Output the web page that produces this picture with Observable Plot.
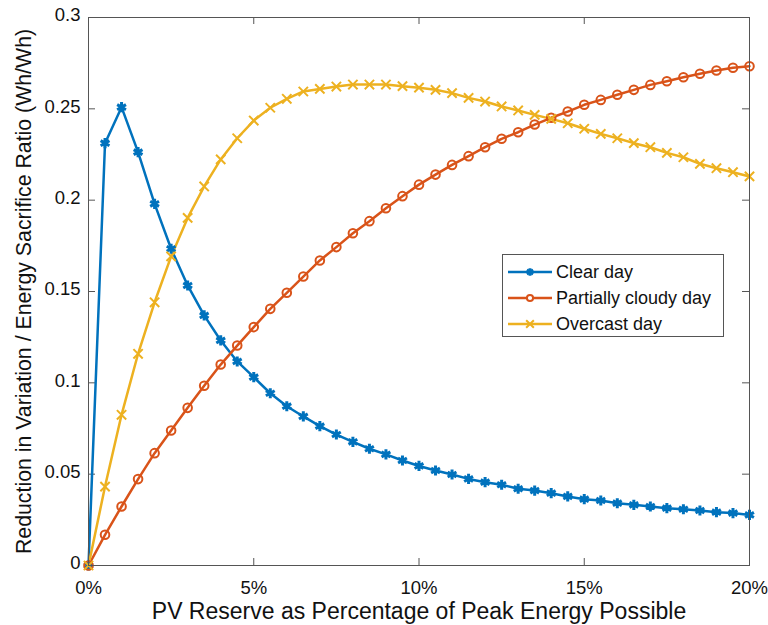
<!DOCTYPE html>
<html><head><meta charset="utf-8">
<script src="https://cdn.jsdelivr.net/npm/d3@7"></script>
<script src="https://cdn.jsdelivr.net/npm/@observablehq/plot@0.6"></script>
<style>
body{margin:0;background:#fff;}
#wrap{position:relative;width:768px;height:625px;font-family:"Liberation Sans",Arial,Helvetica,sans-serif;}
#legend{position:absolute;left:502px;top:254px;width:222px;height:83px;border:1px solid #555;background:#fff;box-sizing:border-box;}
.row{position:absolute;left:0;height:26px;display:flex;align-items:center;font-size:18px;color:#111;}
.row svg{margin-left:5px;margin-right:4px;}
</style></head><body><div id="wrap"></div>
<script>
const seriesNames = ["Clear day", "Partially cloudy day", "Overcast day"];
const seriesColors = ["#0072BD", "#D95319", "#EDB120"];
const seriesSymbols = ["asterisk", "circle", "times"];
const xTicks = [0, 5, 10, 15, 20];
const xTickLabels = ["0%", "5%", "10%", "15%", "20%"];
const yTicks = [0, 0.05, 0.1, 0.15, 0.2, 0.25, 0.3];
const yTickLabels = ["0", "0.05", "0.1", "0.15", "0.2", "0.25", "0.3"];
const xLabel = "PV Reserve as Percentage of Peak Energy Possible";
const yLabel = "Reduction in Variation / Energy Sacrifice Ratio (Wh/Wh)";

const reserve = [0, 0.5, 1, 1.5, 2, 2.5, 3, 3.5, 4, 4.5, 5, 5.5, 6, 6.5, 7, 7.5, 8, 8.5, 9, 9.5, 10,
  10.5, 11, 11.5, 12, 12.5, 13, 13.5, 14, 14.5, 15, 15.5, 16, 16.5, 17, 17.5, 18, 18.5, 19, 19.5, 20];
const clearDay = [0, 0.2312, 0.2509, 0.2263, 0.198, 0.1734, 0.1533, 0.1369, 0.1232, 0.1117, 0.1031,
  0.0943, 0.0872, 0.0816, 0.0763, 0.0717, 0.0677, 0.0639, 0.0608, 0.0575, 0.0545,
  0.052, 0.0498, 0.0474, 0.0456, 0.0442, 0.042, 0.041, 0.0396, 0.0378, 0.0363,
  0.0356, 0.0341, 0.0332, 0.0323, 0.0314, 0.0308, 0.0301, 0.0292, 0.0287, 0.0277];
const partlyCloudy = [0, 0.0168, 0.0323, 0.0473, 0.0615, 0.0739, 0.0863, 0.0984, 0.110, 0.1204, 0.1305,
  0.1405, 0.1493, 0.1582, 0.167, 0.1743, 0.1819, 0.1885, 0.1956, 0.2022, 0.2085,
  0.214, 0.2193, 0.2241, 0.229, 0.2336, 0.2372, 0.2414, 0.2451, 0.2485, 0.2522,
  0.2549, 0.2577, 0.2604, 0.2631, 0.2651, 0.2673, 0.2692, 0.271, 0.2725, 0.2733];
const overcast = [0, 0.0432, 0.0825, 0.1159, 0.1441, 0.1692, 0.1903, 0.2075, 0.2223, 0.2339, 0.2436,
  0.2506, 0.2555, 0.2595, 0.2609, 0.2622, 0.2633, 0.2633, 0.2633, 0.2624, 0.2616,
  0.2604, 0.2586, 0.256, 0.254, 0.2513, 0.2491, 0.2467, 0.2445, 0.2421, 0.2391,
  0.2363, 0.2339, 0.2312, 0.229, 0.2259, 0.2235, 0.2199, 0.2175, 0.2153, 0.213];

const seriesValues = [clearDay, partlyCloudy, overcast];
const data = [];
seriesNames.forEach((name, i) => reserve.forEach((x, j) => data.push({x, y: seriesValues[i][j], series: name})));
const byName = name => data.filter(d => d.series === name);

const W = 768, H = 625, mL = 88, mR = 19, mT = 17, mB = 60;
const fw = W - mL - mR, fh = H - mT - mB, tk = 7;
const axisColor = "#555";

const plot = Plot.plot({
  width: W, height: H,
  marginLeft: mL, marginRight: mR, marginTop: mT, marginBottom: mB,
  style: {fontFamily: '"Liberation Sans", Arial, Helvetica, sans-serif', fontSize: "18.5px", color: "#111", background: "white", overflow: "visible"},
  x: {domain: [0, 20]},
  y: {domain: [0, 0.3]},
  color: {domain: seriesNames, range: seriesColors},
  marks: [
    // inward ticks on all four sides
    Plot.tickX(xTicks, {x: d => d, stroke: axisColor, insetTop: fh - tk}),
    Plot.tickX(xTicks, {x: d => d, stroke: axisColor, insetBottom: fh - tk}),
    Plot.tickY(yTicks, {y: d => d, stroke: axisColor, insetRight: fw - tk}),
    Plot.tickY(yTicks, {y: d => d, stroke: axisColor, insetLeft: fw - tk}),
    Plot.axisX(xTicks, {anchor: "bottom", tickSize: 0, tickPadding: 15, label: null,
      tickFormat: d => xTickLabels[xTicks.indexOf(d)]}),
    Plot.axisY(yTicks, {anchor: "left", tickSize: 0, tickPadding: 8, label: null, dy: -2,
      tickFormat: d => yTickLabels[yTicks.indexOf(d)]}),
    Plot.text([xLabel], {frameAnchor: "bottom", dy: 46, lineAnchor: "middle", textAnchor: "middle", fontSize: 23, fill: "#111"}),
    Plot.text([yLabel], {frameAnchor: "left", dx: -64, rotate: -90, lineAnchor: "middle", textAnchor: "middle", fontSize: 21.3, fill: "#111"}),
    ...seriesNames.map((name, i) => Plot.line(byName(name), {x: "x", y: "y", stroke: "series", strokeWidth: 2.5})),
    ...seriesNames.map((name, i) => Plot.dot(byName(name), {x: "x", y: "y", stroke: "series",
      symbol: seriesSymbols[i], r: i === 0 ? 4.8 : 4.3, strokeWidth: i === 0 ? 3 : 2, fill: i === 0 ? "series" : "none"})),
    Plot.frame({stroke: axisColor, strokeWidth: 1})
  ]
});
const wrap = document.getElementById("wrap");
wrap.appendChild(plot);

// legend
const legend = document.createElement("div");
legend.id = "legend";
seriesNames.forEach((name, i) => {
  const row = document.createElement("div");
  row.className = "row";
  row.style.top = (4 + i * 26) + "px";
  const sym = d3.symbol(i === 0 ? d3.symbolAsterisk : i === 1 ? d3.symbolCircle : d3.symbolTimes, i === 1 ? 30 : 40)();
  row.innerHTML = `<svg width="44" height="12" viewBox="0 0 44 12">
    <line x1="0" y1="6" x2="44" y2="6" stroke="${seriesColors[i]}" stroke-width="2.5"/>
    <path transform="translate(22,6)" d="${sym}" stroke="${seriesColors[i]}" stroke-width="${i === 0 ? 3 : 2}" fill="${i === 0 ? seriesColors[i] : (i === 1 ? "white" : "none")}"/>
  </svg><span>${name}</span>`;
  legend.appendChild(row);
});
wrap.appendChild(legend);
</script>
</body></html>
